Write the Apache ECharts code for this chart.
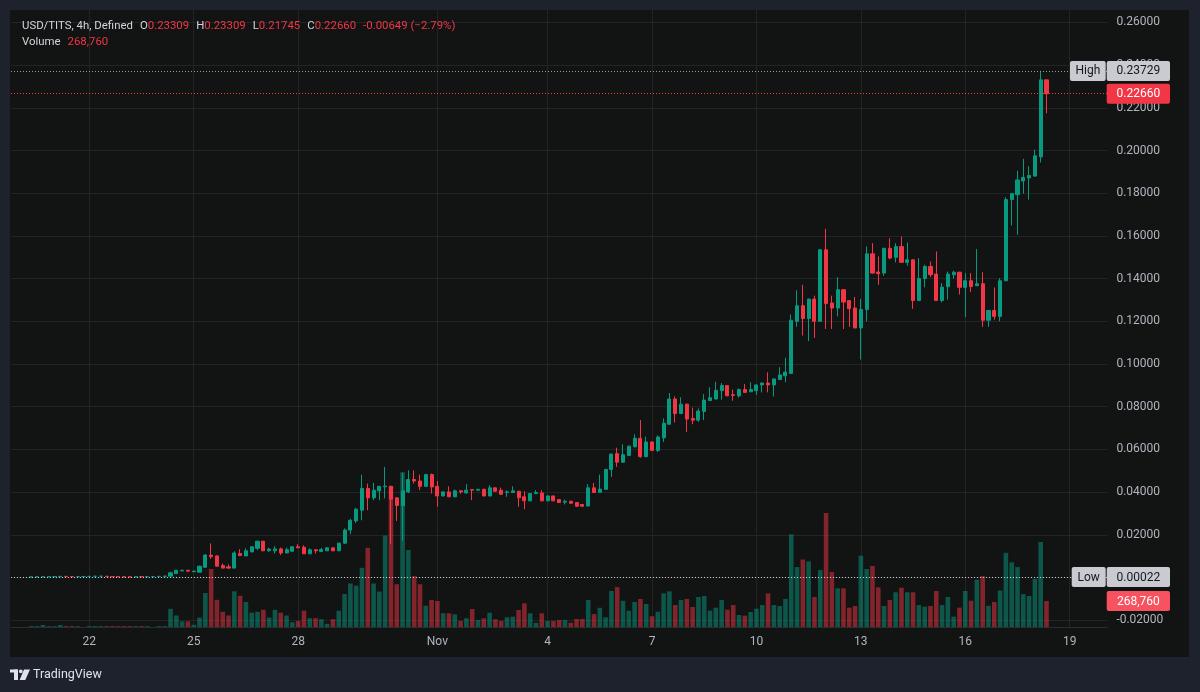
<!DOCTYPE html>
<html>
<head>
<meta charset="utf-8">
<title>USD/TITS 4h</title>
<script src="https://cdn.jsdelivr.net/npm/echarts/dist/echarts.min.js"></script>
<style>
  html, body { margin: 0; padding: 0; background: #121313; }
  #main { width: 1200px; height: 692px; }
</style>
</head>
<body>
<div id="main"></div>
<script>
// 4h bars, category index 0 is the first slot at the left edge of the pane
const FIRST_BAR = 3;
const SLOT_COUNT = 189;
const categories = Array.from({ length: SLOT_COUNT }, (_, j) => 'bar' + j);

// day labels on the time scale (category index -> text)
const dayTickIdx = [13, 31, 49, 73, 92, 110, 128, 146, 164, 182];
const dayTickText = ['22', '25', '28', 'Nov', '4', '7', '10', '13', '16', '19'];

const opens = [
  .00022, .0003, .00034, .00038, .0004, .00042, .00055, .00045, .00038, .00048,
  .00048, .00055, .00058, .0006, .00048, .00042, .00038, .00034, .0003, .00042,
  .00036, .00046, .00046, .00055, .0006, .0019, .0031, .0034, .0027, .0025,
  .0048, .0105, .0101, .0056, .0050, .0044, .0112, .0101, .0120, .0137,
  .0170, .0126, .0125, .0134, .0115, .0123, .0144, .0142, .0111, .0130,
  .0122, .0125, .0139, .0125, .0161, .0222, .0265, .0315, .0417, .0373,
  .0406, .0425, .0427, .0373, .0337, .0401, .0459, .0452, .0427, .0482,
  .0427, .0382, .0401, .0378, .0406, .0396, .0412, .0409, .0413, .0382,
  .0420, .0409, .0399, .0398, .0404, .0378, .0359, .0393, .0396, .0359,
  .0382, .0365, .0353, .0357, .0351, .0342, .0335, .0420, .0399, .0413,
  .0506, .0580, .0540, .0572, .0612, .0652, .0566, .0635, .0595, .0654,
  .0718, .0836, .0768, .0812, .0745, .0737, .0778, .0829, .0836, .0875,
  .0899, .0856, .0851, .0880, .0870, .0875, .0902, .0911, .0902, .0927,
  .0945, .0956, .1200, .1273, .1213, .1304, .1200, .1535, .1286, .1262,
  .1348, .1297, .1262, .1169, .1255, .1516, .1431, .1426, .1542, .1500,
  .1550, .1476, .1488, .1297, .1400, .1457, .1421, .1297, .1362, .1418,
  .1430, .1359, .1390, .1367, .1376, .1205, .1251, .1223, .1390, .1770,
  .1793, .1857, .1871, .1880, .1970, .23309
];
const highs = [
  .0003, .00035, .0004, .00042, .00045, .0006, .0006, .0005, .0005, .00048,
  .00058, .0006, .00062, .00062, .0005, .00045, .0004, .00036, .00045, .00044,
  .0005, .00046, .0006, .0007, .0027, .0036, .0036, .0035, .0031, .0055,
  .0110, .0160, .0104, .0066, .0062, .0123, .0133, .0137, .0145, .0172,
  .0171, .0139, .0147, .0140, .0140, .0145, .0156, .0151, .0136, .0132,
  .0139, .0140, .0140, .0163, .0230, .0275, .0326, .0482, .0440, .0443,
  .0429, .0518, .0430, .0375, .0490, .0502, .0502, .0482, .0485, .0487,
  .0452, .0403, .0427, .0412, .0408, .0437, .0414, .0415, .0416, .0432,
  .0422, .0421, .0408, .0427, .0406, .0404, .0395, .0409, .0409, .0384,
  .0384, .0367, .0365, .0359, .0353, .0344, .0437, .0443, .0482, .0509,
  .0580, .0608, .0624, .0618, .0671, .0737, .0660, .0637, .0666, .0745,
  .0864, .0848, .0844, .0814, .0796, .0792, .0859, .0891, .0917, .0911,
  .0901, .0880, .0886, .0906, .0914, .0904, .0913, .0961, .0932, .0985,
  .1030, .1232, .1345, .1371, .1306, .1320, .1537, .1633, .1320, .1407,
  .1350, .1300, .1314, .1305, .1550, .1566, .1504, .1544, .1589, .1566,
  .1597, .1569, .1490, .1496, .1465, .1480, .1527, .1379, .1433, .1437,
  .1432, .1426, .1426, .1538, .1430, .1253, .1359, .1402, .1781, .1800,
  .1906, .1961, .1926, .2004, .23729, .23309
];
const lows = [
  .00022, .00025, .0003, .00035, .00036, .0004, .0004, .0003, .00035, .00048,
  .00045, .0005, .0005, .0004, .0004, .00035, .0003, .00028, .0003, .00032,
  .00035, .00046, .00044, .0005, .0005, .0016, .0029, .0025, .0026, .0024,
  .0046, .0087, .0050, .0043, .0041, .0043, .0100, .0100, .0118, .0128,
  .0124, .0119, .0112, .0105, .0113, .0121, .0138, .0110, .0110, .0112,
  .0120, .0124, .0124, .0124, .0158, .0203, .0256, .0268, .0315, .0362,
  .0362, .0370, .0156, .0265, .0172, .0395, .0440, .0409, .0425, .0393,
  .0331, .0380, .0376, .0376, .0392, .0394, .0362, .0407, .0380, .0380,
  .0402, .0386, .0378, .0396, .0331, .0320, .0357, .0391, .0357, .0357,
  .0357, .0349, .0342, .0346, .0332, .0330, .0333, .0396, .0397, .0411,
  .0471, .0518, .0538, .0570, .0610, .0561, .0564, .0593, .0588, .0635,
  .0716, .0726, .0766, .0682, .0718, .0729, .0737, .0827, .0834, .0833,
  .0849, .0828, .0842, .0865, .0868, .0855, .0867, .0867, .0848, .0925,
  .0915, .0954, .1174, .1133, .1107, .1122, .1198, .1164, .1164, .1223,
  .1164, .1174, .1167, .1021, .1200, .1424, .1371, .1413, .1491, .1476,
  .1474, .1460, .1258, .1295, .1359, .1407, .1295, .1289, .1301, .1400,
  .1325, .1220, .1337, .1365, .1174, .1174, .1208, .1200, .1388, .1649,
  .1606, .1798, .1770, .1878, .1944, .21745
];
const closes = [
  .0003, .00034, .00038, .0004, .00042, .00055, .00045, .00038, .00048, .00048,
  .00055, .00058, .0006, .00048, .00042, .00038, .00034, .0003, .00042, .00036,
  .00046, .00046, .00055, .00065, .0022, .0034, .0034, .0030, .0030, .0053,
  .0105, .0097, .0053, .0044, .0044, .0115, .0103, .0125, .0144, .0170,
  .0125, .0133, .0134, .0115, .0130, .0144, .0139, .0111, .0130, .0125,
  .0131, .0139, .0125, .0161, .0222, .0268, .0320, .0417, .0373, .0409,
  .0427, .0428, .0367, .0337, .0406, .0459, .0452, .0427, .0482, .0424,
  .0382, .0401, .0378, .0406, .0401, .0409, .0409, .0413, .0382, .0420,
  .0404, .0390, .0401, .0406, .0373, .0359, .0393, .0398, .0359, .0382,
  .0359, .0351, .0357, .0348, .0334, .0334, .0420, .0398, .0414, .0506,
  .0578, .0540, .0575, .0615, .0652, .0566, .0635, .0595, .0658, .0723,
  .0836, .0768, .0812, .0742, .0737, .0780, .0831, .0842, .0877, .0899,
  .0851, .0853, .0880, .0867, .0880, .0902, .0911, .0902, .0930, .0949,
  .0962, .1205, .1273, .1213, .1304, .1200, .1535, .1283, .1262, .1348,
  .1290, .1259, .1169, .1255, .1516, .1426, .1423, .1542, .1496, .1550,
  .1476, .1488, .1297, .1400, .1457, .1418, .1297, .1360, .1421, .1430,
  .1359, .1390, .1363, .1376, .1205, .1251, .1223, .1390, .1770, .1798,
  .1862, .1874, .1883, .1975, .23309, .22660
];
const volumes = [
  9000, 9500, 21000, 8000, 9000, 20000, 9000, 9000, 8000, 0,
  9000, 9000, 9000, 9500, 9000, 9000, 9000, 9000, 9000, 9000,
  8000, 0, 9000, 8500, 188000, 119000, 59000, 59000, 23000, 98000,
  352000, 600000, 281000, 157000, 119000, 369000, 323000, 259000, 148000, 157000,
  178000, 98000, 178000, 148000, 119000, 49000, 62000, 169000, 91000, 91000,
  80000, 33000, 81000, 168000, 341000, 450000, 427000, 612000, 819000, 450000,
  367000, 946000, 1458000, 442000, 1600000, 796000, 527000, 442000, 220000, 279000,
  269000, 142000, 142000, 131000, 62000, 90000, 186000, 72000, 90000, 148000,
  80000, 62000, 100000, 107000, 176000, 245000, 142000, 44000, 142000, 62000,
  62000, 72000, 72000, 44000, 83000, 83000, 279000, 134000, 199000, 100000,
  372000, 412000, 271000, 168000, 259000, 290000, 238000, 111000, 158000, 348000,
  369000, 227000, 279000, 290000, 207000, 310000, 321000, 169000, 200000, 279000,
  179000, 227000, 124000, 117000, 155000, 189000, 227000, 348000, 227000, 217000,
  290000, 958000, 620000, 698000, 679000, 310000, 589000, 1179000, 569000, 400000,
  400000, 200000, 217000, 737000, 600000, 631000, 410000, 217000, 279000, 359000,
  406000, 359000, 359000, 227000, 210000, 217000, 372000, 227000, 310000, 107000,
  200000, 372000, 272000, 489000, 527000, 219000, 259000, 377000, 767000, 669000,
  620000, 339000, 321000, 498000, 879000, 268760
];
const changePct = '−2.79%';

const UP = '#089981';
const DOWN = '#f23645';
const UP_VOL = 'rgba(8,153,129,0.5)';
const DOWN_VOL = 'rgba(242,54,69,0.5)';
const PANE = '#121313';
const FRAME = '#1e222d';
const GRID_LINE = '#222426';
const AXIS_TEXT = '#b2b5be';
const FONT = 'Roboto, "Noto Sans", sans-serif';
const HEAD_SIZE = 11.4;

const last = closes.length - 1;
const highest = Math.max(...highs);
const lowest = Math.min(...lows);
const lastClose = closes[last];
const lastVolume = volumes[last];
const fmt = v => v.toFixed(5);

const candleData = categories.map((_, j) => {
  const i = j - FIRST_BAR;
  if (i < 0 || i >= closes.length) return '-';
  return [opens[i], closes[i], lows[i], highs[i]];
});
const volumeData = categories.map((_, j) => {
  const i = j - FIRST_BAR;
  if (i < 0 || i >= volumes.length) return '-';
  return { value: volumes[i], itemStyle: { color: closes[i] >= opens[i] ? UP_VOL : DOWN_VOL } };
});

const isDayTick = idx => dayTickIdx.indexOf(idx) !== -1;

const chart = echarts.init(document.getElementById('main'), null, { renderer: 'canvas' });

const headerText =
  '{n|USD/TITS, 4h, Defined}{s| }{n|O}{v|' + fmt(opens[last]) + '}{s| }{n|H}{v|' + fmt(highs[last]) +
  '}{s| }{n|L}{v|' + fmt(lows[last]) + '}{s| }{n|C}{v|' + fmt(lastClose) + '}{s| }{v|' +
  fmt(lastClose - closes[last - 1]) + ' (' + changePct + ')}\n' +
  '{n|Volume}{s| }{v|' + lastVolume.toLocaleString('en-US') + '}';

chart.setOption({
  backgroundColor: PANE,
  animation: false,
  textStyle: { fontFamily: FONT },
  title: {
    left: 17,
    top: 12.5,
    text: headerText,
    textStyle: {
      fontWeight: 'normal',
      fontSize: HEAD_SIZE,
      rich: {
        n: { color: '#d1d4dc', fontSize: HEAD_SIZE, fontWeight: 'normal', lineHeight: 16.5, fontFamily: FONT },
        v: { color: DOWN, fontSize: HEAD_SIZE, fontWeight: 'normal', lineHeight: 16.5, fontFamily: FONT },
        s: { width: 7, fontSize: HEAD_SIZE, lineHeight: 16.5 },
      },
    },
  },
  grid: [
    { left: 11, right: 92.6, top: 22.4, bottom: 71.8 },
    { left: 11, right: 92.6, top: 10, bottom: 65 },
  ],
  xAxis: [
    {
      type: 'category',
      gridIndex: 0,
      data: categories,
      axisLine: { show: false },
      axisTick: { show: false },
      axisLabel: { show: false },
      splitLine: { show: false },
    },
    {
      type: 'category',
      gridIndex: 1,
      data: categories,
      axisLine: { show: true, lineStyle: { color: '#2a2d31' } },
      axisTick: { show: false },
      axisLabel: {
        interval: idx => isDayTick(idx),
        formatter: (v, idx) => dayTickText[dayTickIdx.indexOf(idx)] || '',
        color: AXIS_TEXT,
        fontSize: 12,
        margin: 9,
      },
      splitLine: {
        show: true,
        alignWithLabel: true,
        interval: idx => isDayTick(idx),
        lineStyle: { color: GRID_LINE },
      },
    },
  ],
  yAxis: [
    {
      type: 'value',
      gridIndex: 0,
      position: 'right',
      min: -0.02,
      max: 0.26,
      interval: 0.02,
      axisLine: { show: false },
      axisTick: { show: false },
      axisLabel: { formatter: v => v.toFixed(5), color: AXIS_TEXT, fontSize: 12, margin: 9 },
      splitLine: { lineStyle: { color: GRID_LINE } },
    },
    { type: 'value', gridIndex: 1, min: 0, max: 6380000, show: false },
  ],
  series: [
    {
      name: 'Volume',
      type: 'bar',
      xAxisIndex: 1,
      yAxisIndex: 1,
      data: volumeData,
      barWidth: 4.6,
      silent: true,
      z: 1,
    },
    {
      name: 'USD/TITS',
      type: 'candlestick',
      xAxisIndex: 0,
      yAxisIndex: 0,
      data: candleData,
      barWidth: 3.6,
      silent: true,
      z: 3,
      itemStyle: { color: UP, color0: DOWN, borderColor: UP, borderColor0: DOWN, borderWidth: 1 },
      markLine: {
        symbol: 'none',
        silent: true,
        animation: false,
        precision: 6,
        label: { show: false },
        data: [
          { yAxis: highest, lineStyle: { color: '#9598a1', type: [1, 2], width: 1 } },
          { yAxis: lastClose, lineStyle: { color: '#ff3b4a', type: [1, 2], width: 1.2 } },
          { yAxis: lowest, lineStyle: { color: '#c8cad0', type: [1, 2], width: 1 } },
        ],
      },
    },
  ],
});

// price-scale tags, placed through the axes' own scales
const yHigh = chart.convertToPixel({ yAxisIndex: 0 }, highest);
const yClose = chart.convertToPixel({ yAxisIndex: 0 }, lastClose);
const yLow = chart.convertToPixel({ yAxisIndex: 0 }, lowest);
const yVol = chart.convertToPixel({ yAxisIndex: 1 }, lastVolume);

const tag = (x, w, yc, fill, text, color) => ({
  type: 'group',
  zlevel: 1,
  z: 100,
  children: [
    { type: 'rect', zlevel: 1, shape: { x: x, y: yc - 10, width: w, height: 20, r: 2 }, style: { fill: fill } },
    {
      type: 'text',
      zlevel: 1,
      z: 101,
      style: {
        text: text, x: x + w / 2, y: yc + 0.5,
        align: 'center', verticalAlign: 'middle', textAlign: 'center', textVerticalAlign: 'middle',
        fill: color, font: '12px ' + FONT,
      },
    },
  ],
});

chart.setOption({
  graphic: [
    // outer frame
    { type: 'rect', z: 90, shape: { x: 0, y: 0, width: 1200, height: 10 }, style: { fill: FRAME } },
    { type: 'rect', z: 90, shape: { x: 0, y: 0, width: 10, height: 692 }, style: { fill: FRAME } },
    { type: 'rect', z: 90, shape: { x: 1189, y: 0, width: 11, height: 692 }, style: { fill: FRAME } },
    { type: 'rect', z: 90, shape: { x: 0, y: 657, width: 1200, height: 35 }, style: { fill: FRAME } },
    tag(1070, 35.7, yHigh, '#c9cbd1', 'High', '#131722'),
    tag(1106.7, 63.3, yHigh, '#c9cbd1', fmt(highest), '#131722'),
    tag(1106.7, 63.3, yClose, DOWN, fmt(lastClose), '#ffffff'),
    tag(1071.7, 34, yLow, '#c9cbd1', 'Low', '#131722'),
    tag(1106.7, 63.3, yLow, '#c9cbd1', fmt(lowest), '#131722'),
    tag(1106.7, 63.3, yVol, '#f7525f', lastVolume.toLocaleString('en-US'), '#ffffff'),
    // TradingView mark and wordmark
    { type: 'rect', z: 95, shape: { x: 10, y: 669.5, width: 8, height: 3 }, style: { fill: '#e0e3eb' } },
    { type: 'rect', z: 95, shape: { x: 14, y: 669.5, width: 4, height: 10.5 }, style: { fill: '#e0e3eb' } },
    { type: 'circle', z: 95, shape: { cx: 20.8, cy: 671.3, r: 1.9 }, style: { fill: '#e0e3eb' } },
    { type: 'polygon', z: 95, shape: { points: [[24, 669.5], [30, 669.5], [25.3, 680], [19.6, 680]] }, style: { fill: '#e0e3eb' } },
    {
      type: 'text', z: 95,
      style: {
        text: 'TradingView', x: 33, y: 675, verticalAlign: 'middle', textVerticalAlign: 'middle',
        fill: '#e0e3eb', font: '12.5px ' + FONT,
      },
    },
  ],
});

window.addEventListener('resize', chart.resize);
</script>
</body>
</html>
